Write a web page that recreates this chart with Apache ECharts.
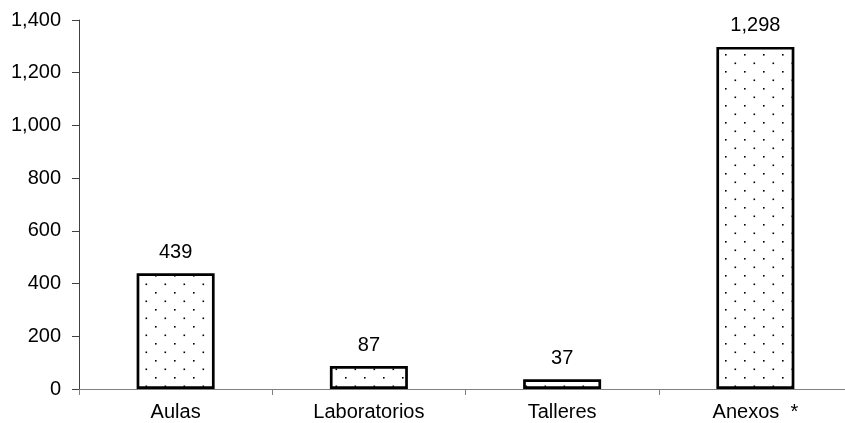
<!DOCTYPE html>
<html>
<head>
<meta charset="utf-8">
<script src="https://cdn.jsdelivr.net/npm/echarts@6/dist/echarts.min.js"></script>
<style>
html,body{margin:0;padding:0;background:#fff;overflow:hidden;}
#chart{width:860px;height:423px;}
</style>
</head>
<body>
<div id="chart"></div>
<script>
var categories = ['Aulas', 'Laboratorios', 'Talleres', 'Anexos  *'];
var values = [439, 87, 37, 1298];
var yTicks = [0, 200, 400, 600, 800, 1000, 1200, 1400];

function fmt(v) { return Number(v).toLocaleString('en-US'); }

// dotted fill pattern
var tile = document.createElement('canvas');
tile.width = 19; tile.height = 17;
var ctx = tile.getContext('2d');
ctx.fillStyle = '#ffffff';
ctx.fillRect(0, 0, 19, 17);
ctx.fillStyle = '#000000';
ctx.fillRect(3, 3, 1.6, 1.6);
ctx.fillRect(12.5, 11.5, 1.6, 1.6);

var chart = echarts.init(document.getElementById('chart'), null, {renderer: 'canvas'});
var fontFam = '"Liberation Sans", Arial, sans-serif';
chart.setOption({
  animation: false,
  backgroundColor: '#ffffff',
  grid: {left: 79, top: 20, width: 773, height: 369, containLabel: false},
  xAxis: {
    type: 'category',
    data: categories,
    axisLine: {show: true, lineStyle: {color: '#808080', width: 1}},
    axisTick: {show: true, alignWithLabel: false, length: 6, lineStyle: {color: '#808080'}},
    axisLabel: {color: '#000', fontSize: 20, fontFamily: fontFam, margin: 13, interval: 0},
    splitLine: {show: false}
  },
  yAxis: {
    type: 'value',
    min: yTicks[0], max: yTicks[yTicks.length - 1], interval: yTicks[1] - yTicks[0],
    axisLine: {show: true, lineStyle: {color: '#404040', width: 1}},
    axisTick: {show: true, length: 7, lineStyle: {color: '#404040'}},
    axisLabel: {color: '#000', fontSize: 20, fontFamily: fontFam, margin: 18, formatter: fmt},
    splitLine: {show: false}
  },
  series: [{
    type: 'bar',
    data: values,
    barWidth: 78,
    itemStyle: {
      color: {image: tile, repeat: 'repeat'},
      borderColor: '#000', borderWidth: 2.7
    },
    label: {
      show: true, position: 'top', distance: 11,
      color: '#000', fontSize: 20, fontFamily: fontFam,
      formatter: function (p) { return fmt(p.value); }
    }
  }]
});
</script>
</body>
</html>
